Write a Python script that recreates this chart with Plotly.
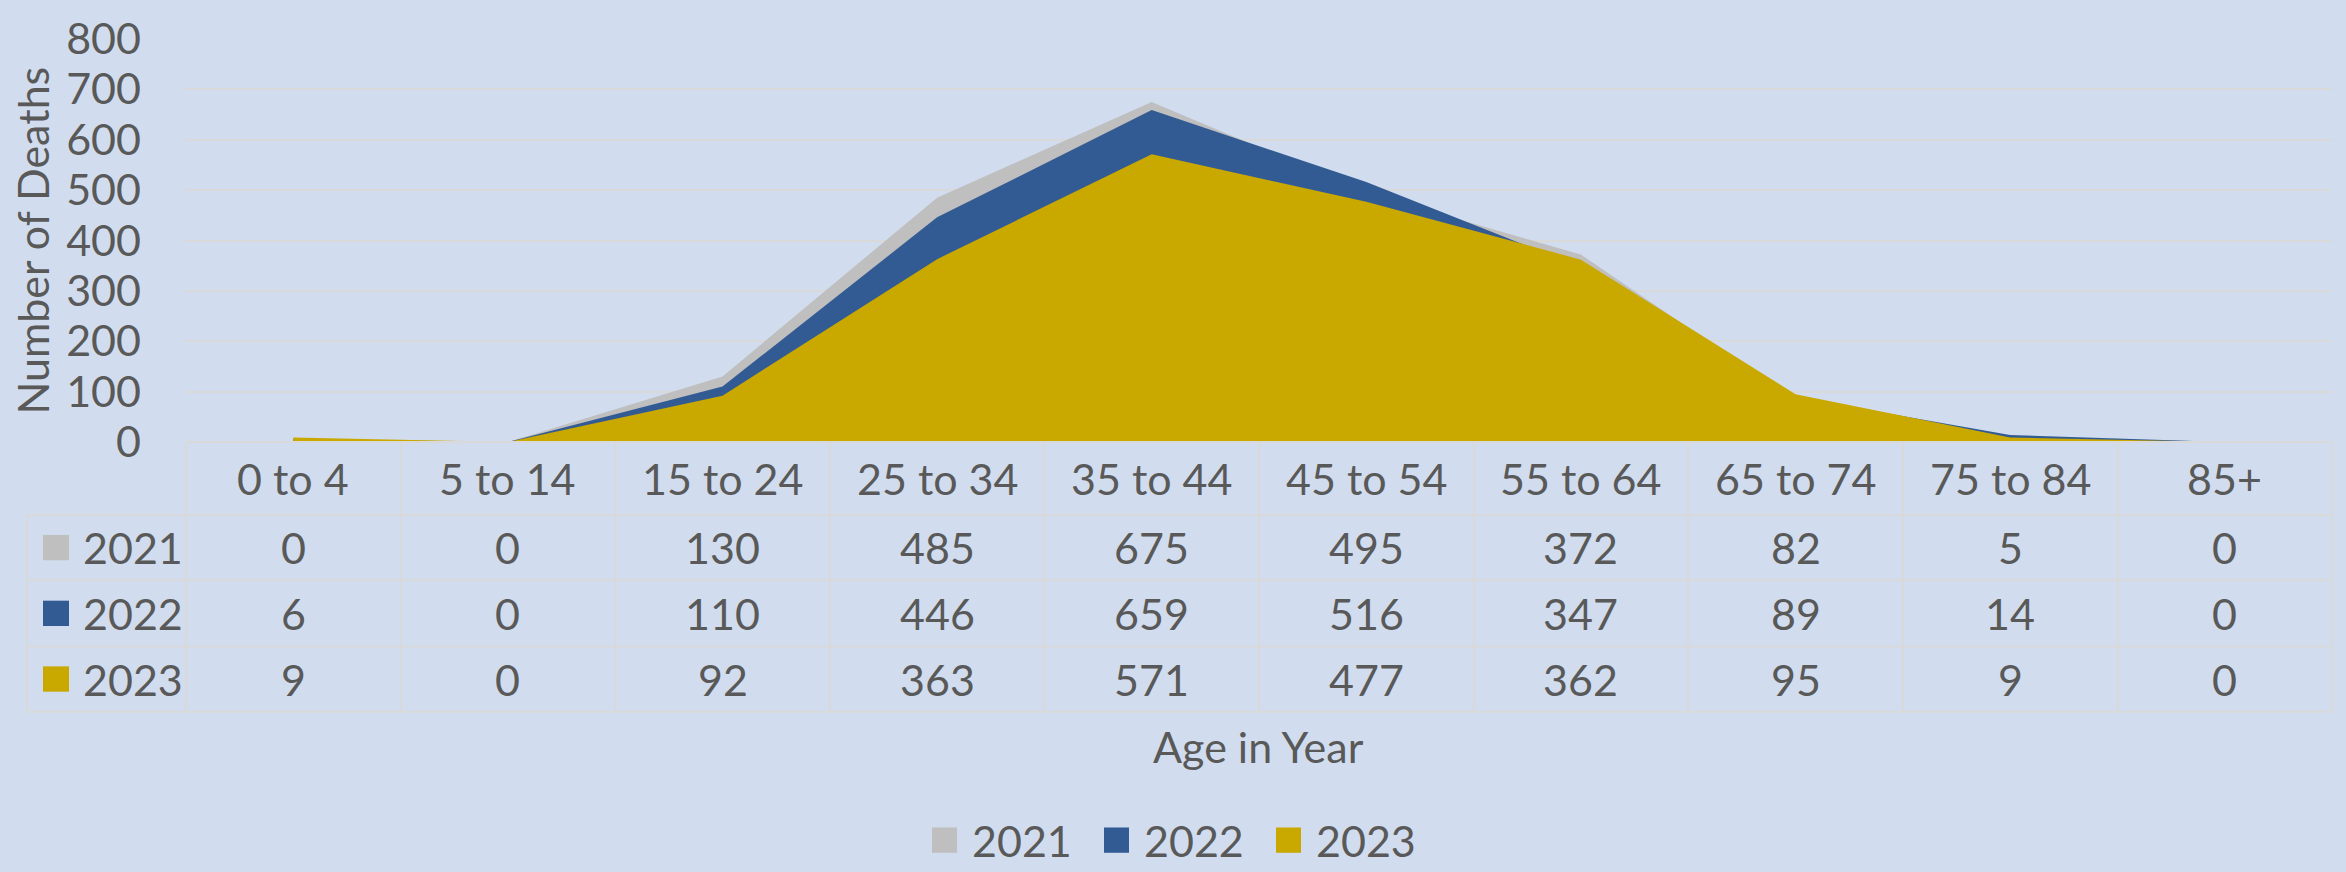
import plotly.graph_objects as go

categories = ["0 to 4", "5 to 14", "15 to 24", "25 to 34", "35 to 44",
              "45 to 54", "55 to 64", "65 to 74", "75 to 84", "85+"]
series_names = ["2021", "2022", "2023"]
deaths_2021 = [0, 0, 130, 485, 675, 495, 372, 82, 5, 0]
deaths_2022 = [6, 0, 110, 446, 659, 516, 347, 89, 14, 0]
deaths_2023 = [9, 0, 92, 363, 571, 477, 362, 95, 9, 0]
y_ticks = [0, 100, 200, 300, 400, 500, 600, 700, 800]

series_values = [deaths_2021, deaths_2022, deaths_2023]
colors = ["#BFBFBF", "#325B94", "#C9A800"]

W, H = 2346, 872
L, R, T, B = 186, 2332, 28, 442  # plot area pixels
PW, PH = R - L, B - T
BG = "#D1DDEE"
GRID = "#D9D9D9"
TXT = "#595959"
FONT = "Lato, Carlito, 'Open Sans', sans-serif"
FS = 43


def px(xp):
    return (xp - L) / PW


def py(yp):
    return (B - yp) / PH


n = len(categories)
xs = list(range(n))

fig = go.Figure()
for name, vals, col in zip(series_names, series_values, colors):
    fig.add_trace(go.Scatter(
        x=xs, y=vals, name=name, mode="none", fill="tozeroy",
        fillcolor=col, line=dict(width=0), showlegend=False,
        hoverinfo="x+y+name"))

shapes = []
annotations = []
line = dict(color=GRID, width=2)

# table geometry (pixels)
row_edges = [442, 517, 584, 652, 719]
left_edge = 27

# horizontal table lines
shapes.append(dict(type="line", xref="paper", yref="paper",
                   x0=px(L), x1=px(R), y0=py(row_edges[0]), y1=py(row_edges[0]), line=line))
for ye in row_edges[1:]:
    shapes.append(dict(type="line", xref="paper", yref="paper",
                       x0=px(left_edge), x1=px(R), y0=py(ye), y1=py(ye), line=line))
# vertical table lines
shapes.append(dict(type="line", xref="paper", yref="paper",
                   x0=px(left_edge), x1=px(left_edge), y0=py(row_edges[1]), y1=py(row_edges[-1]), line=line))
for k in range(n + 1):
    xk = k / n
    shapes.append(dict(type="line", xref="paper", yref="paper",
                       x0=xk, x1=xk, y0=py(row_edges[0]), y1=py(row_edges[-1]), line=line))

# header labels
hdr_y = py((row_edges[0] + row_edges[1]) / 2)
for i, c in enumerate(categories):
    annotations.append(dict(x=i, xref="x", y=hdr_y, yref="paper", text=c,
                            showarrow=False, xanchor="center", yanchor="middle",
                            font=dict(size=FS, color=TXT, family=FONT)))

# data rows
for r, (name, vals, col) in enumerate(zip(series_names, series_values, colors)):
    yc_px = (row_edges[r + 1] + row_edges[r + 2]) / 2
    yc = py(yc_px)
    shapes.append(dict(type="rect", xref="paper", yref="paper",
                       x0=px(43), x1=px(69), y0=py(yc_px + 13), y1=py(yc_px - 13),
                       fillcolor=col, line=dict(width=0)))
    annotations.append(dict(x=px(81), xref="paper", y=yc, yref="paper", text=name,
                            showarrow=False, xanchor="left", yanchor="middle",
                            font=dict(size=FS, color=TXT, family=FONT)))
    for i, v in enumerate(vals):
        annotations.append(dict(x=i, xref="x", y=yc, yref="paper", text=str(v),
                                showarrow=False, xanchor="center", yanchor="middle",
                                font=dict(size=FS, color=TXT, family=FONT)))

# axis titles
annotations.append(dict(x=px(32), xref="paper", y=py((T + B) / 2), yref="paper",
                        text="Number of Deaths", textangle=-90, showarrow=False,
                        xanchor="center", yanchor="middle",
                        font=dict(size=FS, color=TXT, family=FONT)))
annotations.append(dict(x=px(1258), xref="paper", y=py(755), yref="paper",
                        text="Age in Year", showarrow=False,
                        xanchor="center", yanchor="middle",
                        font=dict(size=FS, color=TXT, family=FONT)))

# legend (manual)
leg_y = 851
for k, (name, col) in enumerate(zip(series_names, colors)):
    sx = 932 + k * 172
    shapes.append(dict(type="rect", xref="paper", yref="paper",
                       x0=px(sx), x1=px(sx + 25), y0=py(leg_y + 13), y1=py(leg_y - 13),
                       fillcolor=col, line=dict(width=0)))
    annotations.append(dict(x=px(sx + 38), xref="paper", y=py(leg_y), yref="paper",
                            text=name, showarrow=False, xanchor="left", yanchor="middle",
                            font=dict(size=FS, color=TXT, family=FONT)))

fig.update_layout(
    width=W, height=H,
    margin=dict(l=L, r=W - R, t=T, b=H - B, pad=0),
    paper_bgcolor=BG, plot_bgcolor=BG,
    showlegend=False,
    font=dict(family=FONT, size=FS, color=TXT),
    xaxis=dict(range=[-0.5, n - 0.5], showticklabels=False, showgrid=False,
               zeroline=False, showline=False, ticks=""),
    yaxis=dict(range=[0, 800], tickvals=y_ticks, showgrid=True, gridcolor=GRID,
               gridwidth=2, zeroline=False, showline=False, ticks="",
               ticklabelstandoff=44,
               tickfont=dict(size=FS, color=TXT, family=FONT)),
    shapes=shapes,
    annotations=annotations,
)

fig.write_html(
    "out.html",
    config={"displayModeBar": False},
    post_script="document.body.style.margin='0px';document.body.style.overflow='hidden';",
)
